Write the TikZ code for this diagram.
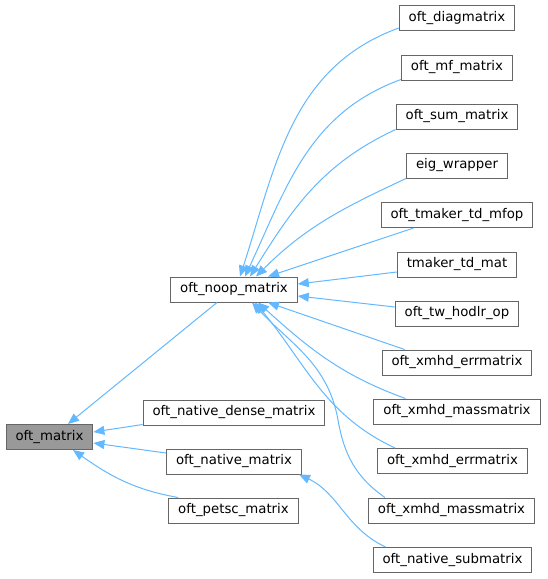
\documentclass[tikz,border=0pt]{standalone}
\usepackage{fontspec}
\setmainfont{DejaVu Sans}
\usepackage{tikz}
\usetikzlibrary{calc,arrows.meta}
\definecolor{edgeblue}{HTML}{63B8FF}
\definecolor{boxgray}{HTML}{666666}
\definecolor{basegray}{HTML}{999999}
\tikzset{
	cls/.style={draw=boxgray, line width=1pt, fill=white, inner xsep=9.5pt, inner ysep=0pt, minimum height=25pt, font=\fontsize{13.3}{16}\selectfont},
	inherit/.style={draw=edgeblue, line width=1pt, {Triangle[length=11pt,width=9pt,fill=edgeblue]}-}
}

\begin{document}
\begin{tikzpicture}[x=1pt,y=1pt]
				\useasboundingbox (0,0) rectangle (547,-579);
				\node[cls, fill=basegray] (matrix) at (49.5,-437) {oft\_matrix};
				\node[cls] (noop) at (234,-289.5) {oft\_noop\_matrix};
				\node[cls] (dense) at (234,-412.5) {oft\_native\_dense\_matrix};
				\node[cls] (native) at (234,-461.5) {oft\_native\_matrix};
				\node[cls] (petsc) at (233.5,-510.5) {oft\_petsc\_matrix};
				\node[cls] (diag) at (457,-18) {oft\_diagmatrix};
				\node[cls] (mf) at (457,-67.5) {oft\_mf\_matrix};
				\node[cls] (sum) at (457,-116.5) {oft\_sum\_matrix};
				\node[cls] (eig) at (457,-165.5) {eig\_wrapper};
				\node[cls] (mfop) at (457,-215) {oft\_tmaker\_td\_mfop};
				\node[cls] (tdmat) at (457,-264.5) {tmaker\_td\_mat};
				\node[cls] (hodlr) at (457,-313.5) {oft\_tw\_hodlr\_op};
				\node[cls] (errm) at (457,-362.5) {oft\_xmhd\_errmatrix};
				\node[cls] (massm) at (457,-411.5) {oft\_xmhd\_massmatrix};
				\node[cls] (errmb) at (452.5,-461) {oft\_xmhd\_errmatrix};
				\node[cls] (massmb) at (451.5,-510.5) {oft\_xmhd\_massmatrix};
				\node[cls] (sub) at (452.5,-560) {oft\_native\_submatrix};
				\draw[inherit] ([xshift=18.5pt]matrix.north) -- ([xshift=-17pt]noop.south);
				\draw[inherit] ([yshift=5pt]matrix.east) -- ([yshift=1pt]dense.south west);
				\draw[inherit] ([yshift=-6pt]matrix.east) -- ([yshift=8.5pt]native.west);
				\draw[inherit] ([xshift=23.5pt]matrix.south) to[out=-35,in=170] ([xshift=10pt]petsc.north west);
				\draw[inherit] ([xshift=-3pt]native.south east) to[out=-25,in=155] ([xshift=13pt]sub.north west);
				\draw[inherit] ([xshift=6pt]noop.north) to[out=72,in=200] ([yshift=3pt]diag.south west);
				\draw[inherit] ([xshift=11pt]noop.north) to[out=65,in=200] ([yshift=1pt]mf.south west);
				\draw[inherit] ([xshift=16pt]noop.north) to[out=58,in=205] (sum.south west);
				\draw[inherit] ([xshift=22pt]noop.north) to[out=45,in=205] (eig.south west);
				\draw[inherit] ([xshift=34pt]noop.north) -- ([xshift=33pt]mfop.south west);
				\draw[inherit] ([yshift=5.5pt]noop.east) -- ([yshift=-7.5pt]tdmat.west);
				\draw[inherit] ([yshift=-6.5pt]noop.east) -- ([yshift=6.5pt]hodlr.west);
				\draw[inherit] ([xshift=34pt]noop.south) -- ([xshift=23pt]errm.north west);
				\draw[inherit] ([xshift=24pt]noop.south) to[out=-42,in=160] ([xshift=32pt]massm.north west);
				\draw[inherit] ([xshift=21pt]noop.south) to[out=-50,in=155] ([xshift=18pt]errmb.north west);
				\draw[inherit] ([xshift=18pt]noop.south) to[out=-47,in=100] (338,-420) to[out=-80,in=145] ([xshift=17pt]massmb.north west);
			\end{tikzpicture}
\end{document}
